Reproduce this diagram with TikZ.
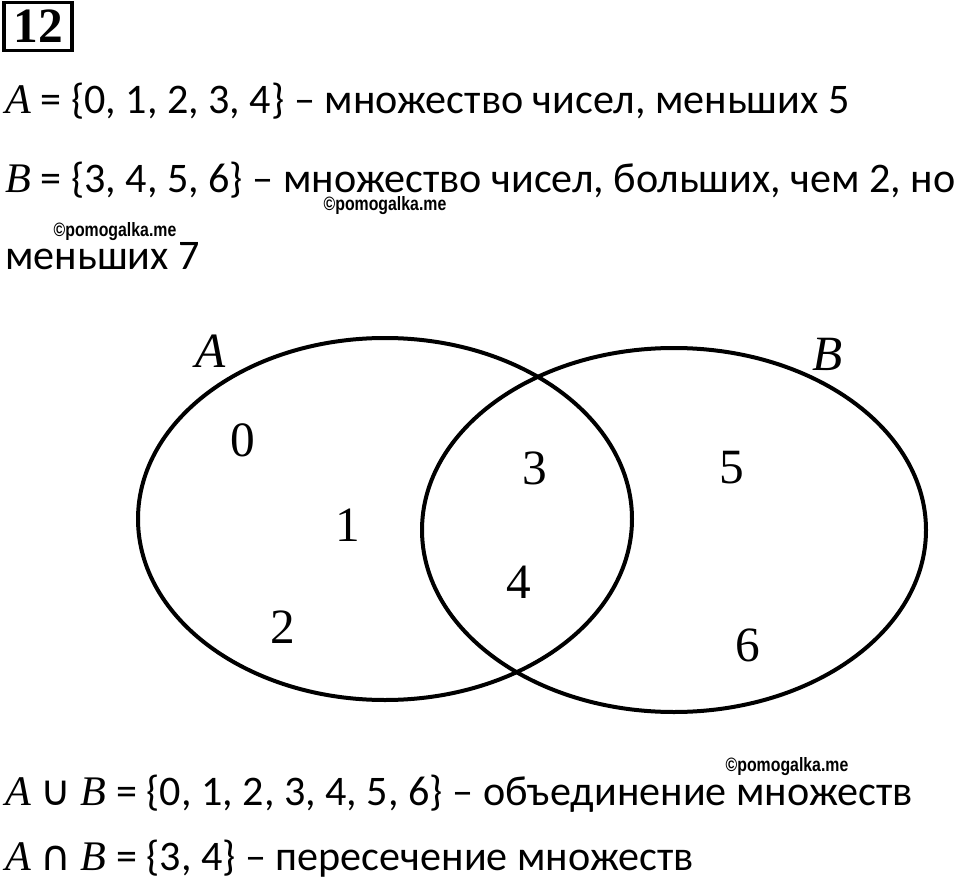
\documentclass[tikz,border=0pt]{standalone}
\usepackage{fontspec}
\setmainfont{Carlito}
\newfontfamily\tms{Liberation Serif}
\newfontfamily\sym{DejaVu Sans}
\newfontfamily\wmf{Liberation Sans}
\begin{document}
\begin{tikzpicture}[x=0.75pt,y=-0.75pt,
  line/.style={font=\fontsize{31.6}{36}\selectfont, anchor=base west, inner sep=0pt},
  vlab/.style={font=\tms\itshape\fontsize{37}{40}\selectfont, inner sep=0pt},
  num/.style={font=\tms\fontsize{37}{40}\selectfont, inner sep=0pt},
  wm/.style={font=\wmf\bfseries\fontsize{14.5}{15}\selectfont, inner sep=0pt},
  venn/.style={line width=3pt}]
\useasboundingbox[fill=white] (0,0) rectangle (960,891);
\node[draw, line width=2.3pt, inner sep=0pt, minimum width=51pt, minimum height=36.5pt,
  font=\tms\bfseries\fontsize{37}{40}\selectfont] (n12) at (38,26.5) {12};
\newcommand{\vA}{{\tms\itshape A}}
\newcommand{\vB}{{\tms\itshape B}}
\node[line] (l1) at (5,114) {\vA{} = \{0, 1, 2, 3, 4\} – множество чисел, меньших 5};
\node[line] (l2) at (5,193) {\vB{} = \{3, 4, 5, 6\} – множество чисел, больших, чем 2, но};
\node[line] (l3) at (5,270) {меньших 7};
\node[line] (l4) at (5,805) {\vA{} {\sym ∪} \vB{} = \{0, 1, 2, 3, 4, 5, 6\} – объединение множеств};
\node[line] (l5) at (5,870) {\vA{} {\sym ∩} \vB{} = \{3, 4\} – пересечение множеств};
\node[wm] (w1) at (385,206) {\scalebox{0.82}[1]{©pomogalka.me}};
\node[wm] (w2) at (115,232) {\scalebox{0.82}[1]{©pomogalka.me}};
\node[wm] (w3) at (787,767) {\scalebox{0.82}[1]{©pomogalka.me}};
\draw[venn] (385,519) ellipse [x radius=247, y radius=181];
\draw[venn] (674,530) ellipse [x radius=252, y radius=182];
\node[vlab] (la) at (211,351) {A};
\node[vlab] (lb) at (828,354) {B};
\node[num] (d0) at (243,440) {0};
\node[num] (d1) at (348,525) {1};
\node[num] (d2) at (283,627) {2};
\node[num] (d3) at (535,468) {3};
\node[num] (d4) at (519,582) {4};
\node[num] (d5) at (732,468) {5};
\node[num] (d6) at (748,645) {6};
\end{tikzpicture}
\end{document}
